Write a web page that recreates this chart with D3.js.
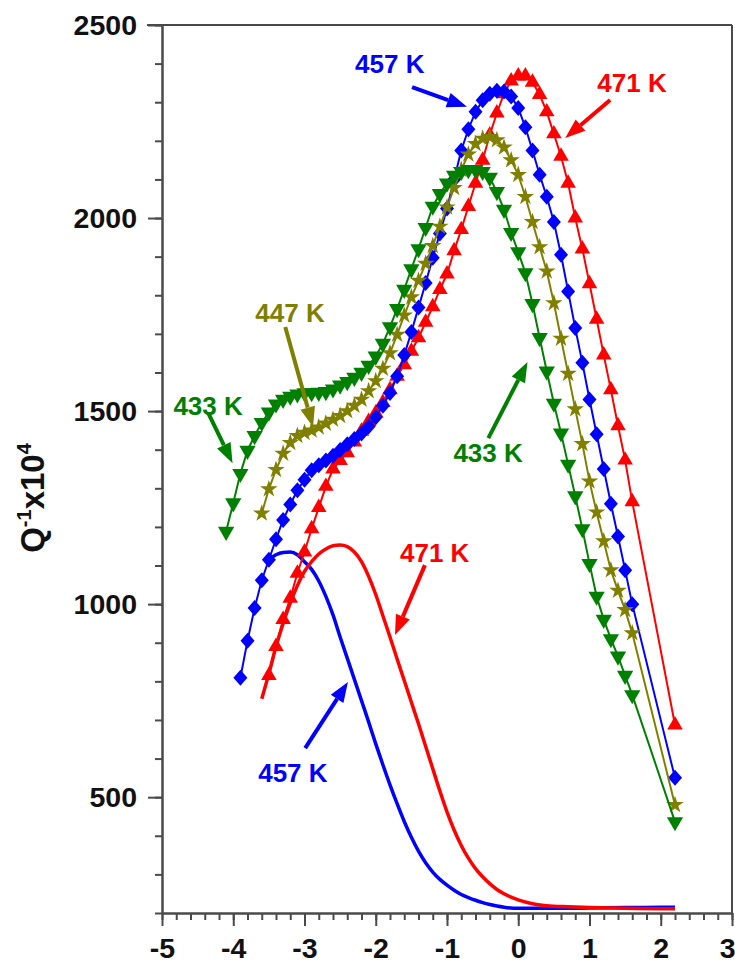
<!DOCTYPE html>
<html>
<head>
<meta charset="utf-8">
<script src="https://cdn.jsdelivr.net/npm/d3@7"></script>
<style>
  body { margin: 0; background: #fff; }
  text { font-family: "Liberation Sans", Arial, sans-serif; font-weight: bold; }
</style>
</head>
<body>
<svg id="chart" width="735" height="963"></svg>
<script>
// ---- data: [x, Q^-1 x 10^4] ----
const green433 = [[-4.1,1188],[-4.0,1262],[-3.9,1338],[-3.8,1398],[-3.7,1436],[-3.6,1470],[-3.5,1497],[-3.4,1518],
  [-3.3,1530],[-3.2,1538],[-3.1,1544],[-3.0,1547],[-2.9,1547],[-2.8,1548],[-2.7,1550],[-2.6,1557],[-2.5,1567],
  [-2.4,1576],[-2.3,1587],[-2.2,1600],[-2.1,1618],[-2.0,1642],[-1.9,1675],[-1.8,1718],[-1.7,1765],[-1.6,1815],
  [-1.5,1868],[-1.4,1920],[-1.3,1975],[-1.2,2030],[-1.1,2063],[-1.0,2090],[-0.9,2110],[-0.8,2120],[-0.7,2125],
  [-0.6,2125],[-0.5,2120],[-0.4,2105],[-0.3,2068],[-0.2,2022],[-0.1,1962],[0.0,1912],[0.1,1858],[0.2,1778],
  [0.3,1690],[0.4,1603],[0.5,1520],[0.6,1443],[0.7,1362],[0.8,1280],[0.9,1195],[1.0,1105],[1.1,1020],[1.2,960],
  [1.3,910],[1.4,865],[1.5,815],[1.6,765],[2.2,436]];

const olive447 = [[-3.6,1235],[-3.5,1298],[-3.4,1348],[-3.3,1390],[-3.2,1418],[-3.1,1436],[-3.0,1444],[-2.9,1450],
  [-2.8,1458],[-2.7,1468],[-2.6,1478],[-2.5,1488],[-2.4,1500],[-2.3,1514],[-2.2,1530],[-2.1,1552],[-2.0,1578],
  [-1.9,1610],[-1.8,1650],[-1.7,1698],[-1.6,1748],[-1.5,1795],[-1.4,1838],[-1.3,1882],[-1.2,1928],[-1.1,1978],
  [-1.0,2028],[-0.9,2078],[-0.8,2125],[-0.7,2165],[-0.6,2192],[-0.5,2206],[-0.4,2210],[-0.3,2202],[-0.2,2183],
  [-0.1,2150],[0.0,2112],[0.1,2055],[0.2,1990],[0.3,1925],[0.4,1862],[0.5,1780],[0.6,1688],[0.7,1597],[0.8,1505],
  [0.9,1415],[1.0,1318],[1.1,1238],[1.2,1163],[1.3,1088],[1.4,1035],[1.5,985],[1.6,925],[2.2,480]];

const blue457 = [[-3.9,809],[-3.8,905],[-3.7,990],[-3.6,1062],[-3.5,1115],[-3.4,1168],[-3.3,1218],[-3.2,1258],
  [-3.1,1295],[-3.0,1322],[-2.9,1347],[-2.8,1360],[-2.7,1372],[-2.6,1384],[-2.5,1399],[-2.4,1414],[-2.3,1428],
  [-2.2,1442],[-2.1,1460],[-2.0,1484],[-1.9,1514],[-1.8,1547],[-1.7,1590],[-1.6,1645],[-1.5,1705],[-1.4,1768],
  [-1.3,1832],[-1.2,1897],[-1.1,1960],[-1.0,2025],[-0.9,2100],[-0.8,2175],[-0.7,2230],[-0.6,2275],[-0.5,2305],
  [-0.4,2322],[-0.3,2330],[-0.2,2328],[-0.1,2315],[0.0,2285],[0.1,2235],[0.2,2175],[0.3,2112],[0.4,2055],
  [0.5,1990],[0.6,1905],[0.7,1810],[0.8,1715],[0.9,1625],[1.0,1530],[1.1,1440],[1.2,1350],[1.3,1260],
  [1.4,1175],[1.5,1088],[1.6,1000],[2.2,550]];

const red471 = [[-3.5,815],[-3.4,890],[-3.3,960],[-3.2,1015],[-3.1,1080],[-3.0,1135],[-2.9,1195],[-2.8,1250],
  [-2.7,1305],[-2.6,1350],[-2.5,1372],[-2.4,1392],[-2.3,1420],[-2.2,1448],[-2.1,1473],[-2.0,1495],[-1.9,1522],
  [-1.8,1555],[-1.7,1590],[-1.6,1620],[-1.5,1655],[-1.4,1690],[-1.3,1730],[-1.2,1770],[-1.1,1815],[-1.0,1855],
  [-0.9,1915],[-0.8,1970],[-0.7,2030],[-0.6,2090],[-0.5,2150],[-0.4,2215],[-0.3,2272],[-0.2,2322],[-0.1,2355],
  [0.0,2368],[0.1,2368],[0.2,2352],[0.3,2320],[0.4,2275],[0.5,2218],[0.6,2160],[0.7,2090],[0.8,2000],[0.9,1920],
  [1.0,1830],[1.1,1738],[1.2,1645],[1.3,1555],[1.4,1462],[1.5,1373],[1.6,1265],[2.2,687]];

// fitted curves (no markers)
const blueFit = [[-3.5,1115],[-3.4,1128],[-3.3,1134],[-3.2,1135],[-3.1,1128],[-3.0,1110],[-2.9,1090],[-2.8,1060],
  [-2.7,1020],[-2.6,972],[-2.5,915],[-2.4,860],[-2.3,805],[-2.2,750],[-2.1,695],[-2.0,638],[-1.9,584],[-1.8,532],
  [-1.7,483],[-1.6,437],[-1.5,396],[-1.4,360],[-1.3,330],[-1.2,306],[-1.1,287],[-1.0,272],[-0.9,259],[-0.8,248],
  [-0.7,240],[-0.6,233],[-0.5,227],[-0.4,222],[-0.3,218],[-0.2,215],[0.0,212],[0.5,212],[1.0,213],[1.5,214],
  [2.0,215],[2.2,215]];

const redFit = [[-3.6,755],[-3.5,820],[-3.4,890],[-3.3,950],[-3.2,1003],[-3.1,1048],[-3.0,1085],[-2.9,1110],
  [-2.8,1130],[-2.7,1143],[-2.6,1151],[-2.5,1153],[-2.4,1149],[-2.3,1135],[-2.2,1110],[-2.1,1072],[-2.0,1025],
  [-1.9,970],[-1.8,915],[-1.7,858],[-1.6,802],[-1.5,746],[-1.4,690],[-1.3,632],[-1.2,574],[-1.1,516],[-1.0,462],
  [-0.9,415],[-0.8,375],[-0.7,342],[-0.6,315],[-0.5,294],[-0.4,276],[-0.3,261],[-0.2,250],[-0.1,241],[0.0,234],
  [0.2,224],[0.4,219],[0.7,216],[1.0,214],[1.5,212],[2.0,211],[2.2,211]];

const xTicks = [-5, -4, -3, -2, -1, 0, 1, 2, 3];
const yTicks = [500, 1000, 1500, 2000, 2500];

// annotations: label, colour, text anchor point, arrow tail, arrow tip (data units)
const notes = [
  {label: "457 K", color: "#0000ff", at: [-2.29, 2376], from: [-1.49, 2339], to: [-0.72, 2288]},
  {label: "471 K", color: "#ff0000", at: [1.11, 2326], from: [1.29, 2306], to: [0.66, 2207]},
  {label: "447 K", color: "#808000", at: [-3.69, 1731], from: [-3.27, 1718], to: [-2.88, 1459]},
  {label: "433 K", color: "#008000", at: [-4.84, 1490], from: [-4.35, 1495], to: [-4.01, 1365]},
  {label: "433 K", color: "#008000", at: [-0.91, 1368], from: [-0.42, 1430], to: [0.13, 1627]},
  {label: "471 K", color: "#ff0000", at: [-1.66, 1109], from: [-1.31, 1101], to: [-1.73, 920]},
  {label: "457 K", color: "#0000ff", at: [-3.65, 539], from: [-2.99, 627], to: [-2.39, 798]}
];

// ---- scales ----
let x = d3.scaleLinear().domain([-5, 3]).range([162, 732]);
let y = d3.scaleLinear().domain([200, 2500]).range([913, 25]);

let svg = d3.select("#chart");
let axisColor = "#4a4a4a";

// frame (top and right)
svg.append("line").attr("x1", x(-5) - 15).attr("x2", x(3)).attr("y1", y(2500)).attr("y2", y(2500))
  .attr("stroke", axisColor).attr("stroke-width", 2);
svg.append("line").attr("x1", x(3)).attr("x2", x(3)).attr("y1", y(2500)).attr("y2", y(200))
  .attr("stroke", axisColor).attr("stroke-width", 2);

// x axis: minor + major
let xMinor = d3.range(-50, 31, 2).map(d => d / 10);
svg.append("g").attr("transform", "translate(0," + y(200) + ")")
  .call(d3.axisBottom(x).tickValues(xMinor).tickSize(7).tickSizeOuter(0).tickFormat(""));
let gx = svg.append("g").attr("transform", "translate(0," + y(200) + ")")
  .call(d3.axisBottom(x).tickValues(xTicks).tickSize(13).tickSizeOuter(0).tickPadding(12).tickFormat(d => String(d)));

// last label sits at the right edge: keep it inside the page
gx.selectAll(".tick text").filter(d => d === 3).attr("text-anchor", "end").attr("x", 3);

// y axis: minor + major
let yMinor = d3.range(200, 2501, 100);
svg.append("g").attr("transform", "translate(" + x(-5) + ",0)")
  .call(d3.axisLeft(y).tickValues(yMinor).tickSize(7).tickSizeOuter(0).tickFormat(""));
let gy = svg.append("g").attr("transform", "translate(" + x(-5) + ",0)")
  .call(d3.axisLeft(y).tickValues(yTicks).tickSize(14).tickSizeOuter(0).tickPadding(11).tickFormat(d => String(d)));

svg.selectAll(".domain, .tick line").attr("stroke", axisColor).attr("stroke-width", 2);
svg.selectAll(".tick text").attr("font-size", 28.5).attr("font-family", "'Liberation Sans', Arial, sans-serif")
  .attr("font-weight", "bold").attr("fill", "#111");

// y label
let ylab = svg.append("text").attr("transform", "translate(44,498) rotate(-90)")
  .attr("text-anchor", "middle").attr("font-size", 33).attr("fill", "#111");
ylab.append("tspan").text("Q");
ylab.append("tspan").text("-1").attr("font-size", 20).attr("dy", -13);
ylab.append("tspan").text("x10").attr("dy", 13);
ylab.append("tspan").text("4").attr("font-size", 20).attr("dy", -13);

// ---- lines ----
let line = d3.line().x(d => x(d[0])).y(d => y(d[1]));
let smooth = d3.line().x(d => x(d[0])).y(d => y(d[1])).curve(d3.curveMonotoneX);

let diamond = "M0,-8L7,0L0,8L-7,0Z";
let tri = d3.symbol(d3.symbolTriangle, 105)();
let triDown = d3.symbol(d3.symbolTriangle, 115)();
let star = d3.symbol(d3.symbolStar, 95)();

let series = [
  {data: red471, color: "#ff0000", shape: tri, rot: 0},
  {data: blue457, color: "#0000ff", shape: diamond, rot: 0},
  {data: olive447, color: "#808000", shape: star, rot: 0},
  {data: green433, color: "#008000", shape: triDown, rot: 180}
];

svg.append("path").datum(blueFit).attr("d", smooth)
  .attr("fill", "none").attr("stroke", "#0000ff").attr("stroke-width", 3.5);
svg.append("path").datum(redFit).attr("d", smooth)
  .attr("fill", "none").attr("stroke", "#ff0000").attr("stroke-width", 3.5);

for (let s of series) {
  svg.append("path").datum(s.data).attr("d", line)
    .attr("fill", "none").attr("stroke", s.color).attr("stroke-width", 2);
  svg.append("g").selectAll("path").data(s.data).enter().append("path")
    .attr("d", s.shape)
    .attr("transform", d => "translate(" + x(d[0]) + "," + y(d[1]) + ") rotate(" + s.rot + ")")
    .attr("fill", s.color);
}

// ---- annotations ----
for (let n of notes) {
  svg.append("text").attr("x", x(n.at[0])).attr("y", y(n.at[1]))
    .attr("font-size", 26).attr("fill", n.color).text(n.label);

  let x0 = x(n.from[0]), y0 = y(n.from[1]), x1 = x(n.to[0]), y1 = y(n.to[1]);
  let len = Math.hypot(x1 - x0, y1 - y0);
  let ux = (x1 - x0) / len, uy = (y1 - y0) / len;
  let headLen = 20, headW = 7.5;
  let bx = x1 - ux * headLen, by = y1 - uy * headLen;
  svg.append("line").attr("x1", x0).attr("y1", y0).attr("x2", bx).attr("y2", by)
    .attr("stroke", n.color).attr("stroke-width", 4);
  svg.append("path")
    .attr("d", "M" + x1 + "," + y1 + "L" + (bx - uy * headW) + "," + (by + ux * headW) +
      "L" + (bx + uy * headW) + "," + (by - ux * headW) + "Z")
    .attr("fill", n.color);
}
</script>
</body>
</html>
